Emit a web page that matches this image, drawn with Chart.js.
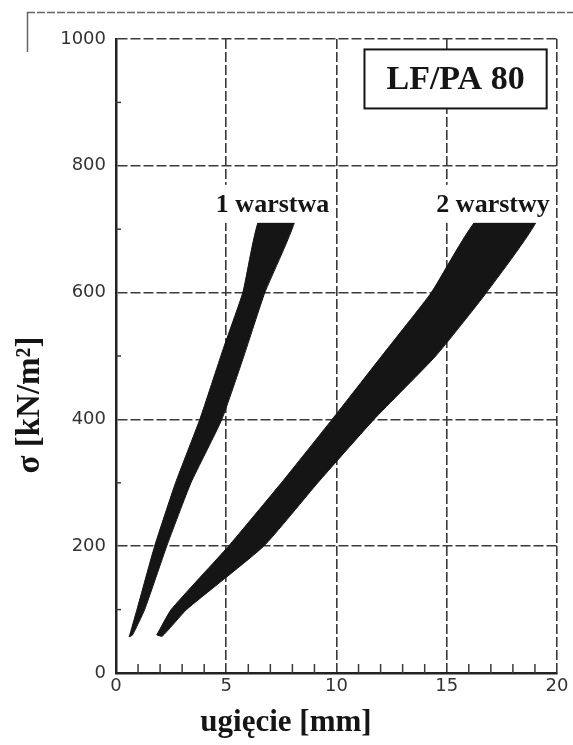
<!DOCTYPE html>
<html><head><meta charset="utf-8">
<script src="https://cdn.jsdelivr.net/npm/chart.js@4/dist/chart.umd.min.js"></script>
<style>html,body{margin:0;padding:0;background:#fff;overflow:hidden}#wrap{width:573px;height:745px;position:relative}</style>
</head><body><div id="wrap"><canvas id="c" width="573" height="745"></canvas></div>
<script>
// ---- data ----
const xTicks = [0, 5, 10, 15, 20];
const yTicks = [0, 200, 400, 600, 800, 1000];
const xMinorTicks = [1, 2, 3, 4, 6, 7, 8, 9, 11, 12, 13, 14, 16, 17, 18, 19];
const yMinorTicks = [100, 300, 500, 700, 900];
const seriesNames = ['1 warstwa', '2 warstwy'];
// band outlines: up the left edge, then down the right edge (closed); tops run under the labels
const band1X = [0.6, 0.95, 1.75, 2.7, 3.8, 4.85, 5.75, 6.55, 8.15, 6.75, 5.8, 4.8, 3.4, 2.3, 1.3, 0.75, 0.6];
const band1Y = [57, 100, 200, 300, 400, 510, 600, 720, 720, 600, 500, 400, 300, 200, 100, 60, 57];
const band2X = [1.85, 2.5, 5.1, 7.5, 9.8, 12.05, 14.3, 16.5, 19.15, 16.8, 14.5, 11.7, 9.15, 6.7, 3.2, 2.1, 1.85];
const band2Y = [60, 100, 200, 300, 400, 500, 600, 720, 720, 600, 500, 400, 300, 200, 100, 58, 60];
const chartTitle = 'LF/PA 80';
const xTitle = 'ugięcie [mm]';
const yTitle = 'σ [kN/m²]';

// ---- annotation placement (data units) ----
const seriesLabelX = [7.1, 17.1];
const seriesLabelY = [740, 740];
const titleBoxX = 15.4, titleBoxY = 937;

const toPts = (xs, ys) => xs.map((x, i) => ({x: x, y: ys[i]}));
const INK = '#151515', GRID = '#3a3a3a';
const serif = "'Liberation Serif','Times New Roman',serif";
const sans = "'DejaVu Sans',sans-serif";

const overlay = {
  id: 'overlay',
  afterDatasetsDraw(chart) {
    const ctx = chart.ctx, xs = chart.scales.x, ys = chart.scales.y;
    const a = chart.chartArea;
    ctx.save();
    // scan frame remnants
    ctx.strokeStyle = '#666'; ctx.lineWidth = 1.5; ctx.setLineDash([8, 2]);
    ctx.beginPath(); ctx.moveTo(27, 12.5); ctx.lineTo(573, 12.5); ctx.stroke();
    ctx.setLineDash([]);
    ctx.beginPath(); ctx.moveTo(27.5, 12); ctx.lineTo(27.5, 52); ctx.stroke();
    // inward minor ticks
    ctx.strokeStyle = GRID; ctx.lineWidth = 1.5;
    xMinorTicks.forEach(v => {
      const px = xs.getPixelForValue(v);
      ctx.beginPath(); ctx.moveTo(px, a.bottom); ctx.lineTo(px, a.bottom - 9); ctx.stroke();
    });
    yMinorTicks.forEach(v => {
      const py = ys.getPixelForValue(v);
      ctx.beginPath(); ctx.moveTo(a.left, py); ctx.lineTo(a.left + 5, py); ctx.stroke();
    });
    // series labels with white background
    ctx.font = 'bold 26px ' + serif;
    ctx.textAlign = 'center'; ctx.textBaseline = 'middle';
    seriesNames.forEach((t, i) => {
      const px = xs.getPixelForValue(seriesLabelX[i]);
      const py = ys.getPixelForValue(seriesLabelY[i]);
      const w = ctx.measureText(t).width;
      ctx.fillStyle = '#fff';
      ctx.fillRect(px - w / 2 - 4, py - 19, w + 8, 38);
      ctx.fillStyle = INK;
      ctx.fillText(t, px, py + 1);
    });
    // title box
    ctx.font = 'bold 34px ' + serif;
    const bx = xs.getPixelForValue(titleBoxX), by = ys.getPixelForValue(titleBoxY);
    const tw = ctx.measureText(chartTitle).width;
    const bw = tw + 44, bh = 59;
    ctx.fillStyle = '#fff';
    ctx.fillRect(bx - bw / 2, by - bh / 2, bw, bh);
    ctx.strokeStyle = INK; ctx.lineWidth = 2;
    ctx.strokeRect(bx - bw / 2, by - bh / 2, bw, bh);
    ctx.fillStyle = INK;
    ctx.fillText(chartTitle, bx, by + 1);
    // axis titles
    ctx.font = 'bold 31px ' + serif;
    ctx.textBaseline = 'alphabetic';
    ctx.fillText(xTitle, 286, 731);
    ctx.save();
    ctx.translate(39, 405);
    ctx.rotate(-Math.PI / 2);
    ctx.font = 'bold 33px ' + serif;
    ctx.fillText(yTitle, 0, 0);
    ctx.restore();
    ctx.restore();
  }
};

new Chart(document.getElementById('c'), {
  type: 'scatter',
  data: {
    datasets: [
      {label: seriesNames[0], data: toPts(band1X, band1Y), showLine: true, fill: 'shape',
       borderColor: INK, backgroundColor: INK, borderWidth: 1, pointRadius: 0, tension: 0.15},
      {label: seriesNames[1], data: toPts(band2X, band2Y), showLine: true, fill: 'shape',
       borderColor: INK, backgroundColor: INK, borderWidth: 1, pointRadius: 0, tension: 0.15}
    ]
  },
  options: {
    responsive: false, animation: false, devicePixelRatio: 1,
    layout: {padding: {left: 0, right: 16, top: 39, bottom: 0}},
    plugins: {legend: {display: false}, tooltip: {enabled: false}},
    scales: {
      x: {
        type: 'linear', min: 0, max: 20,
        afterBuildTicks: s => { s.ticks = xTicks.map(v => ({value: v})); },
        afterFit: s => { s.height = 72; },
        grid: {color: c => (c.tick && c.tick.value > 0) ? GRID : 'transparent', lineWidth: 1.6, drawTicks: false},
        border: {display: true, color: '#222', width: 2.5, dash: [10, 3]},
        ticks: {font: {family: sans, size: 18}, color: '#333', padding: 3, callback: v => String(v)}
      },
      y: {
        type: 'linear', min: 0, max: 1000,
        afterBuildTicks: s => { s.ticks = yTicks.map(v => ({value: v})); },
        afterFit: s => { s.width = 116; },
        grid: {color: c => (c.tick && c.tick.value > 0) ? GRID : 'transparent', lineWidth: 1.6, drawTicks: false},
        border: {display: true, color: '#222', width: 2.5, dash: [10, 3]},
        ticks: {font: {family: sans, size: 18}, color: '#333', padding: 10, callback: v => String(v)}
      }
    }
  },
  plugins: [overlay]
});
</script></body></html>
